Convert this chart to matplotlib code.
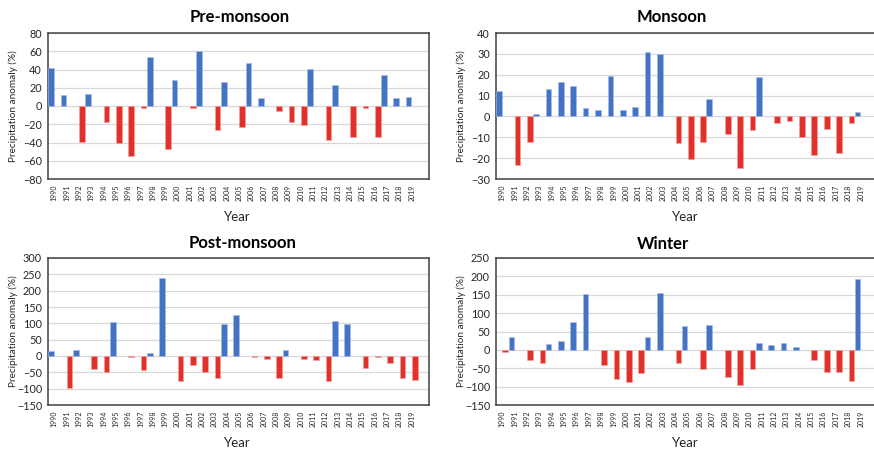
import numpy as np
import matplotlib
matplotlib.use("Agg")
import matplotlib.pyplot as plt

# 데이터
years = [str(y) for y in range(1990, 2020)]

pre_monsoon = [42, 12, -39, 13, -18, -40, -55, -2, 54, -47,
               28, -2, 60, -26, 26, -23, 47, 9, -5, -18,
               -21, 41, -37, 23, -34, -2, -34, 34, 9, 10]

monsoon = [12.4, -23.2, -12.1, 1.3, 13.2, 16.7, 14.5, 4.1, 3.3, 19.4,
           3.3, 4.6, 30.7, 30.0, -12.9, -20.5, -12.1, 8.3, -8.6, -24.8,
           -6.5, 18.8, -3.0, -2.0, -9.9, -18.5, -5.9, -17.7, -3.0, 1.9]

post_monsoon = [14, -98, 18, -40, -48, 104, -3, -44, 10, 239,
                -76, -27, -49, -66, 99, 127, -3, -8, -66, 18,
                -8, -12, -76, 108, 99, -36, -3, -21, -66, -72]

winter = [-5, 36, -27, -35, 15, 23, 75, 152, -40, -80,
          -87, -64, 36, 156, -35, 64, -52, 68, -73, -96,
          -52, 20, 12, 19, 7, -27, -60, -60, -84, 194]

titles = ["Pre-monsoon", "Monsoon", "Post-monsoon", "Winter"]
y_ranges = [(-80, 80, 20), (-30, 40, 10), (-150, 300, 50), (-150, 250, 50)]

# 스타일
BLUE = "#4472C4"
RED = "#E2302A"
TEXT = "#262626"
plt.rcParams["font.family"] = ["Lato", "DejaVu Sans"]

W, H = 874, 449
fig = plt.figure(figsize=(W / 100, H / 100), dpi=100)

# 패널 위치 (픽셀: left, top, bottom, right)
panels = [
    (48, 33, 179, 429),
    (496, 33, 179, 878),
    (48, 258, 405, 429),
    (496, 258, 405, 878),
]
title_pos = [(240, 17), (672, 17), (243, 243), (663, 244)]
year_pos = [(237, 217), (685, 217), (237, 443), (685, 443)]
ylab_x = [13, 461, 13, 461]


def draw_panel(ax, values, y_min, y_max, y_step):
    values = np.array(values, dtype=float)
    idx = np.arange(len(values))
    pos = values > 0
    neg = values < 0

    # 양수는 왼쪽 칸(파랑), 음수는 오른쪽 칸(빨강)
    ax.bar(idx[pos] + 0.25, values[pos], width=0.46, color=BLUE,
           edgecolor="#a9bde3", linewidth=0.4, zorder=3)
    ax.bar(idx[neg] + 0.75, values[neg], width=0.46, color=RED,
           edgecolor="#f2a49f", linewidth=0.4, zorder=3)

    ax.set_xlim(0, 30.9)
    ax.set_ylim(y_min, y_max)
    ax.set_yticks(np.arange(y_min, y_max + 1, y_step))
    ax.set_xticks(idx + 0.5)
    ax.set_xticklabels(years, rotation=90, fontsize=5.0)

    ax.grid(axis="y", color="#d9d9d9", linewidth=0.9, zorder=0)
    ax.tick_params(axis="y", length=0, pad=4.3, labelsize=7.8, labelcolor=TEXT)
    ax.tick_params(axis="x", length=0, pad=4.3, labelcolor=TEXT)
    for sp in ax.spines.values():
        sp.set_color("#404040")
        sp.set_linewidth(1.1)


all_values = [pre_monsoon, monsoon, post_monsoon, winter]
for k in range(4):
    left, top, bottom, right = panels[k]
    ax = fig.add_axes([left / W, 1 - bottom / H, (right - left) / W, (bottom - top) / H])
    y_min, y_max, y_step = y_ranges[k]
    draw_panel(ax, all_values[k], y_min, y_max, y_step)

    tx, ty = title_pos[k]
    fig.text(tx / W, 1 - ty / H, titles[k], ha="center", va="center",
             fontsize=12, fontweight="bold")
    yx, yy = year_pos[k]
    fig.text(yx / W, 1 - yy / H, "Year", ha="center", va="center",
             fontsize=9.5, color=TEXT)
    fig.text(ylab_x[k] / W, 1 - ((top + bottom) / 2) / H, "Precipitation anomaly (%)",
             ha="center", va="center", rotation=90, fontsize=7.2, color=TEXT)

fig.savefig("out.png", dpi=100)
